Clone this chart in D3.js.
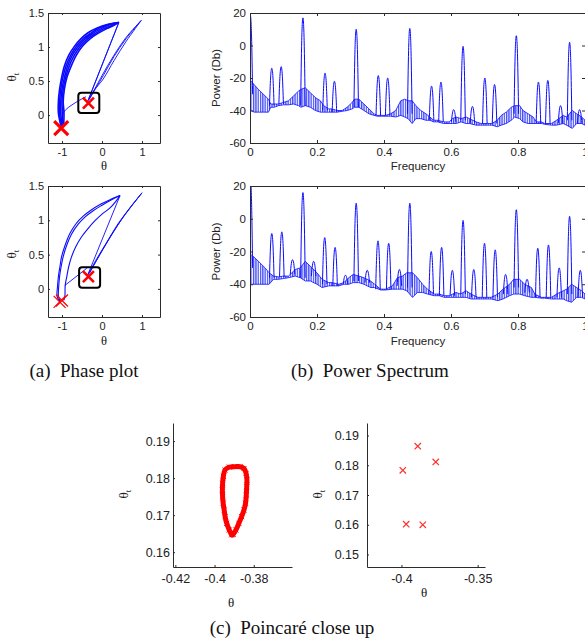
<!DOCTYPE html>
<html>
<head>
<meta charset="utf-8">
<script src="https://cdn.jsdelivr.net/npm/d3@7"></script>
<style>
  body { margin: 0; background: #fff; }
  svg { display: block; }
  .tick text { font-family: "Liberation Sans", Arial, sans-serif; fill: #222; }
</style>
</head>
<body>
<svg width="585" height="639"></svg>
<script>
// ---------- data ----------

// phase plot, top: rising bundle of orbits (theta, theta_t)
const phaseTopRise = [
  [[-1.02,-0.17],[-1.09,0.03],[-1.09,0.2],[-1.06,0.38],[-1.01,0.55],[-0.94,0.72],[-0.83,0.88],[-0.69,1.01],[-0.53,1.12],[-0.35,1.21],[-0.12,1.28],[0.13,1.33],[0.42,1.36]],
  [[-1.02,-0.17],[-1.06,0.03],[-1.06,0.2],[-1.03,0.38],[-0.98,0.55],[-0.9,0.72],[-0.78,0.88],[-0.64,1.01],[-0.47,1.12],[-0.29,1.2],[-0.07,1.28],[0.17,1.33],[0.42,1.36]],
  [[-1.0,-0.17],[-1.03,0.03],[-1.03,0.2],[-1.0,0.38],[-0.94,0.55],[-0.86,0.72],[-0.74,0.88],[-0.59,1.01],[-0.42,1.12],[-0.23,1.2],[-0.02,1.27],[0.21,1.33],[0.42,1.36]],
  [[-0.99,-0.17],[-0.99,0.03],[-1.0,0.2],[-0.97,0.38],[-0.91,0.55],[-0.82,0.72],[-0.69,0.88],[-0.54,1.01],[-0.36,1.12],[-0.16,1.2],[0.05,1.27],[0.26,1.32],[0.42,1.36]],
  [[-0.96,-0.16],[-0.95,0.03],[-0.97,0.2],[-0.94,0.38],[-0.88,0.55],[-0.77,0.72],[-0.64,0.88],[-0.49,1.01],[-0.3,1.12],[-0.1,1.2],[0.12,1.27],[0.3,1.32],[0.42,1.36]]
];
const phaseTopJumps = [
  [[0.42,1.36],[-0.36,0.2]],
  [[0.42,1.36],[-0.33,0.24]],
  [[-0.36,0.2],[-0.2,0.36],[0.03,0.53],[0.3,0.8],[0.6,1.08],[0.98,1.39]],
  [[-0.33,0.22],[-0.15,0.4],[0.05,0.6],[0.3,0.86],[0.6,1.12],[0.98,1.39]],
  [[-0.31,0.24],[0.0,0.58],[0.3,0.88],[0.6,1.14],[0.98,1.39]],
  [[-0.96,-0.16],[-0.96,0.04],[-0.4,0.27]]
];
const phaseTopBox = [-0.33, 0.18];
const phaseTopCross = [[-1.02,-0.19,7,3.2],[-0.34,0.175,5.5,2.6]];

// phase plot, bottom
const phaseBotRise = [
  [[-1.05,-0.18],[-1.12,-0.12],[-1.11,0.05],[-1.09,0.18],[-1.05,0.33],[-1.01,0.47],[-0.92,0.64],[-0.8,0.81],[-0.65,0.95],[-0.47,1.06],[-0.27,1.15],[-0.05,1.23],[0.2,1.3],[0.45,1.36]],
  [[-1.05,-0.18],[-1.09,-0.1],[-1.08,0.05],[-1.06,0.18],[-1.02,0.33],[-0.97,0.47],[-0.88,0.64],[-0.76,0.8],[-0.6,0.94],[-0.42,1.05],[-0.22,1.14],[0.0,1.22],[0.24,1.3],[0.45,1.36]],
  [[-0.96,-0.17],[-0.93,-0.12],[-0.92,0.05],[-0.88,0.18],[-0.83,0.33],[-0.76,0.47],[-0.65,0.62],[-0.51,0.76],[-0.35,0.88],[-0.18,0.99],[0.0,1.09],[0.2,1.18],[0.35,1.28],[0.45,1.36]]
];
const phaseBotJumps = [
  [[0.45,1.36],[-0.36,0.2]],
  [[-0.37,0.19],[-0.15,0.42],[0.1,0.66],[0.4,0.95],[0.7,1.18],[1.0,1.4]],
  [[-0.34,0.21],[-0.1,0.45],[0.15,0.7],[0.45,0.98],[0.72,1.2],[1.0,1.4]],
  [[-0.31,0.23],[0.0,0.56],[0.5,1.02],[1.0,1.4]],
  [[-0.93,0.05],[-0.38,0.3]]
];
const phaseBotBox = [-0.31, 0.167];
const phaseBotCross = [[-1.06,-0.19,6,1.2],[-1.0,-0.17,6,1.2],[-0.34,0.178,5.5,2.6]];

// power spectrum, top: peaks [freq, top dB, base dB]
const specTopPeaks = [
  [0.001,18.5,-30],[0.065,-14,-37],[0.093,-13,-36],[0.158,17,-37],[0.224,-17,-40],[0.252,-22,-41],
  [0.317,10,-38],[0.383,-18.5,-43],[0.411,-20,-43],[0.477,10.5,-42],[0.542,-25,-46],[0.570,-22.5,-47],
  [0.608,-39.5,-47],[0.636,-0.5,-46],[0.664,-37.5,-48],[0.701,-20,-48],[0.730,-24,-48],[0.795,6,-42],
  [0.861,-22.5,-48],[0.889,-21.5,-48],[0.927,-37,-48],[0.954,2,-46],[0.984,-39.5,-48]
];
// noise floor [freq, upper dB, lower dB]
const specTopFloor = [
  [0.004,-22,-40],[0.012,-24,-41],[0.025,-27,-41],[0.04,-30,-41],[0.055,-33,-41],[0.062,-36,-38],
  [0.072,-36,-38],[0.085,-36,-37],[0.1,-35,-36.5],[0.115,-34,-36.5],[0.13,-31,-36],[0.145,-28,-37],
  [0.152,-27,-38],[0.165,-26,-37],[0.18,-29,-38],[0.195,-32,-40],[0.21,-34,-41],[0.22,-37,-41],
  [0.235,-39,-41],[0.245,-39,-41],[0.26,-40,-41],[0.275,-40,-40.5],[0.29,-38,-40],[0.305,-35,-39],
  [0.312,-33,-38],[0.325,-33,-38],[0.34,-36,-40],[0.355,-39,-42],[0.37,-42,-43],[0.38,-43,-43.5],
  [0.395,-43,-43.5],[0.405,-43,-43.5],[0.42,-42,-43.5],[0.435,-40,-44],[0.45,-34,-43],[0.462,-33,-44],
  [0.472,-34,-45],[0.484,-34,-48],[0.495,-37,-45],[0.51,-40,-45],[0.525,-42,-46],[0.537,-44,-46],
  [0.548,-46,-47],[0.56,-46,-47],[0.578,-47,-48],[0.595,-47,-48],[0.604,-45,-48],[0.615,-44,-48],
  [0.63,-45,-47],[0.645,-44,-48],[0.655,-45,-48],[0.675,-47,-49],[0.69,-48,-49],[0.71,-48,-49],
  [0.722,-48,-49],[0.738,-46,-50],[0.75,-43,-49],[0.765,-41,-48],[0.78,-38,-46],[0.79,-37,-44],
  [0.805,-37,-45],[0.815,-40,-47],[0.83,-42,-48],[0.845,-44,-48],[0.855,-47,-48],[0.87,-47,-48],
  [0.88,-48,-48.5],[0.9,-48,-49],[0.915,-46,-49],[0.935,-43,-48],[0.945,-44,-49],[0.962,-40,-51],
  [0.975,-42,-48],[0.99,-44,-48],[1.0,-46,-49]
];

// power spectrum, bottom
const specBotPeaks = [
  [0.001,25,-30],[0.065,-9,-36],[0.095,-8,-35.5],[0.127,-25,-34],[0.158,16,-36],[0.19,-26,-35],
  [0.223,-11.5,-40],[0.254,-17.5,-41],[0.285,-34.5,-40],[0.317,9.5,-38],[0.35,-31.5,-39],[0.382,-13.5,-43],
  [0.414,-15,-43],[0.446,-31,-41],[0.477,9.5,-42],[0.541,-20,-46],[0.572,-17.5,-47],[0.604,-31.5,-47],
  [0.636,-1,-46],[0.668,-31,-48],[0.700,-15,-48],[0.732,-19,-48],[0.763,-34,-46],[0.795,5.5,-42],
  [0.827,-37,-45],[0.859,-18,-48],[0.891,-16,-48],[0.923,-30,-48],[0.954,1.5,-46],[0.986,-31.5,-48]
];
const specBotFloor = [
  [0.004,-22,-40],[0.015,-24,-40],[0.03,-27,-40],[0.045,-30,-40],[0.057,-33,-40],[0.07,-35,-37],
  [0.085,-35.5,-37],[0.1,-35,-36.5],[0.115,-35,-36],[0.135,-31,-35],[0.15,-30,-36],[0.165,-26,-38],
  [0.18,-29,-38],[0.2,-33,-40],[0.215,-37,-42],[0.235,-39,-41],[0.245,-39,-41],[0.265,-40,-41],
  [0.28,-39,-40],[0.295,-36,-40],[0.308,-34,-39],[0.325,-35,-39],[0.34,-36,-40],[0.36,-38,-42],
  [0.372,-40,-42],[0.39,-43,-43.5],[0.405,-43,-43.5],[0.425,-41,-43],[0.44,-36,-43],[0.455,-35,-43],
  [0.468,-33,-44],[0.485,-33,-48],[0.5,-36,-45],[0.515,-40,-45],[0.53,-43,-46],[0.55,-46,-47],
  [0.565,-46,-47],[0.58,-47,-48],[0.595,-47,-48],[0.615,-45,-48],[0.628,-46,-48],[0.645,-44,-48],
  [0.66,-46,-49],[0.68,-48,-49],[0.69,-48,-49],[0.71,-48,-49],[0.72,-48,-49],[0.74,-46,-50],
  [0.755,-43,-49],[0.775,-40,-47],[0.787,-37,-46],[0.805,-37,-46],[0.82,-40,-47],[0.84,-42,-48],
  [0.85,-46,-48],[0.87,-48,-48.5],[0.88,-48,-48.5],[0.9,-48,-49],[0.915,-46,-49],[0.935,-44,-49],
  [0.945,-43,-50],[0.96,-40,-51],[0.975,-42,-48],[0.99,-44,-48],[1.0,-46,-49]
];

// Poincare close up, left: the closed loop of section points
const poincLoop = [
  [-0.3896,0.1831],[-0.3870,0.1831],[-0.3850,0.1826],[-0.3839,0.1813],[-0.3835,0.1795],[-0.3836,0.1777],
  [-0.3838,0.1755],[-0.3842,0.1732],[-0.3850,0.1714],[-0.3862,0.1696],[-0.3876,0.1678],[-0.3891,0.1660],
  [-0.3905,0.1648],[-0.3913,0.1647],[-0.3925,0.1660],[-0.3938,0.1678],[-0.3946,0.1696],[-0.3951,0.1714],
  [-0.3956,0.1732],[-0.3959,0.1750],[-0.3960,0.1768],[-0.3959,0.1786],[-0.3955,0.1805],[-0.3947,0.1822],
  [-0.3925,0.1830]
];
// Poincare close up, right: five isolated points
const poincPoints = [[-0.3991,0.1783],[-0.3893,0.1864],[-0.3775,0.1811],[-0.3969,0.1602],[-0.3860,0.1600]];

// tick values
const phaseXTicks = [-1, 0, 1];
const phaseYTicks = [0, 0.5, 1, 1.5];
const specXTicks = [0, 0.2, 0.4, 0.6, 0.8, 1];
const specYTicks = [-60, -40, -20, 0, 20];
const poincLXTicks = [-0.42, -0.4, -0.38];
const poincLYTicks = [0.16, 0.17, 0.18, 0.19];
const poincRXTicks = [-0.4, -0.35];
const poincRYTicks = [0.15, 0.16, 0.17, 0.18, 0.19];

// ---------- drawing ----------
const svg = d3.select("svg");
const AX = "#2b2b2b";
const BLUE = "#0a0aff";
const RED = "#ff0000";
const fmt = d => String(d);

// vertical hatching, stands in for the dense ripple of the noise floor
svg.append("defs").append("pattern").attr("id", "ripple")
  .attr("patternUnits", "userSpaceOnUse").attr("width", 2.3).attr("height", 10)
  .append("rect").attr("width", 1.3).attr("height", 10).attr("fill", "#2530f8").attr("fill-opacity", 0.85);

// peak outline: [freq offset, fraction of peak height]
const PEAK_SHAPE = [[-0.0068,0],[-0.0052,0.42],[-0.0036,0.74],[-0.0018,0.94],[0,1],
                    [0.0018,0.94],[0.0036,0.74],[0.0052,0.42],[0.0068,0]];

let clipId = 0;
function clipFor(x, y) {
  const id = "clip" + (clipId++);
  svg.append("clipPath").attr("id", id).append("rect")
    .attr("x", x.range()[0]).attr("y", y.range()[1])
    .attr("width", x.range()[1] - x.range()[0])
    .attr("height", y.range()[0] - y.range()[1]);
  return `url(#${id})`;
}

function drawAxes(x, y, o) {
  const g = svg.append("g");
  const [x0, x1] = x.range(), [y0, y1] = y.range();
  g.append("g").attr("transform", `translate(0,${y0})`)
    .call(d3.axisBottom(x).tickValues(o.xt).tickFormat(fmt).tickSizeInner(-o.tick).tickSizeOuter(0).tickPadding(o.xpad));
  g.append("g").attr("transform", `translate(${x0},0)`)
    .call(d3.axisLeft(y).tickValues(o.yt).tickFormat(fmt).tickSizeInner(-o.tick).tickSizeOuter(0).tickPadding(o.ypad));
  if (o.box) {
    g.append("g").attr("transform", `translate(0,${y1})`)
      .call(d3.axisTop(x).tickValues(o.xt).tickFormat("").tickSizeInner(-o.tick).tickSizeOuter(0));
    g.append("g").attr("transform", `translate(${x1},0)`)
      .call(d3.axisRight(y).tickValues(o.yt).tickFormat("").tickSizeInner(-o.tick).tickSizeOuter(0));
  }
  g.selectAll(".domain, .tick line").attr("stroke", AX);
  g.selectAll(".tick text").style("font-size", o.font + "px");
  return g;
}

function serifText(x, y, txt, size) {
  return svg.append("text").attr("x", x).attr("y", y).attr("text-anchor", "middle")
    .style("font-family", "'Liberation Serif', 'Times New Roman', serif")
    .style("font-size", size + "px").attr("fill", "#111").text(txt);
}

function thetaT(cx, cy) {
  const t = svg.append("text").attr("transform", `translate(${cx},${cy}) rotate(-90)`)
    .attr("text-anchor", "middle")
    .style("font-family", "'Liberation Serif', 'Times New Roman', serif")
    .style("font-size", "13px").attr("fill", "#222");
  t.append("tspan").text("\u03b8");
  t.append("tspan").attr("dy", 3).style("font-size", "9px").text("t");
}

function cross(g, x, y, cx, cy, s, w, color) {
  const px = x(cx), py = y(cy);
  g.append("path")
    .attr("d", `M${px - s},${py - s}L${px + s},${py + s}M${px - s},${py + s}L${px + s},${py - s}`)
    .attr("stroke", color).attr("stroke-width", w).attr("fill", "none");
}

// ---- phase plots ----
function phasePlot(y, rise, jumps, box, crosses, labelY, riseWidth) {
  const x = d3.scaleLinear().domain([-1.35, 1.45]).range([48, 160]);
  const g = svg.append("g").attr("clip-path", clipFor(x, y));
  const smooth = d3.line().x(d => x(d[0])).y(d => y(d[1])).curve(d3.curveCatmullRom.alpha(0.5));
  const straight = d3.line().x(d => x(d[0])).y(d => y(d[1]));
  rise.forEach(r => g.append("path").attr("d", smooth(r)).attr("fill", "none")
    .attr("stroke", BLUE).attr("stroke-width", riseWidth));
  jumps.forEach(r => g.append("path").attr("d", (r.length > 2 ? smooth : straight)(r)).attr("fill", "none")
    .attr("stroke", BLUE).attr("stroke-width", 0.9));
  const gm = svg.append("g");
  gm.append("rect").attr("x", x(box[0]) - 10.5).attr("y", y(box[1]) - 10.2)
    .attr("width", 21).attr("height", 20.4).attr("rx", 3)
    .attr("fill", "none").attr("stroke", "#000").attr("stroke-width", 2);
  crosses.forEach(c => cross(gm, x, y, c[0], c[1], c[2], c[3], RED));
  drawAxes(x, y, { xt: phaseXTicks, yt: phaseYTicks, tick: 2, xpad: 5, ypad: 4, box: true, font: 11 });
  serifText(104, labelY, "\u03b8", 12.5);
}
const yPT = d3.scaleLinear().domain([-0.41, 1.5]).range([143, 13]);
const yPB = d3.scaleLinear().domain([-0.41, 1.5]).range([317, 186]);
phasePlot(yPT, phaseTopRise, phaseTopJumps, phaseTopBox, phaseTopCross, 170, 1.6);
phasePlot(yPB, phaseBotRise, phaseBotJumps, phaseBotBox, phaseBotCross, 345, 1.1);
thetaT(16, 77);
thetaT(16, 254);

// ---- power spectra ----
function spectrum(y, peaks, floor, labelY) {
  const x = d3.scaleLinear().domain([0, 1]).range([250, 585]);
  const g = svg.append("g").attr("clip-path", clipFor(x, y));
  const area = d3.area().x(d => x(d[0])).y0(d => y(d[2])).y1(d => y(d[1]));
  g.append("path").attr("d", area(floor)).attr("fill", "url(#ripple)");
  const up = d3.line().x(d => x(d[0])).y(d => y(d[1]));
  const lo = d3.line().x(d => x(d[0])).y(d => y(d[2]));
  g.append("path").attr("d", up(floor)).attr("fill", "none").attr("stroke", BLUE).attr("stroke-width", 0.8);
  g.append("path").attr("d", lo(floor)).attr("fill", "none").attr("stroke", BLUE).attr("stroke-width", 0.8);
  const pk = d3.line().x(d => x(d[0])).y(d => y(d[1])).curve(d3.curveMonotoneX);
  peaks.forEach(p => {
    const pts = PEAK_SHAPE.map(s => [p[0] + s[0], p[2] + (p[1] - p[2]) * s[1]]);
    g.append("path").attr("d", pk(pts)).attr("fill", "none").attr("stroke", BLUE).attr("stroke-width", 1);
  });
  drawAxes(x, y, { xt: specXTicks, yt: specYTicks, tick: 3, xpad: 5, ypad: 4, box: true, font: 11.5 });
  svg.append("text").attr("x", 418).attr("y", labelY).attr("text-anchor", "middle")
    .style("font-family", "'Liberation Sans', Arial, sans-serif").style("font-size", "11.5px")
    .attr("fill", "#222").text("Frequency");
  svg.append("text").attr("transform", `translate(220,${(y.range()[0] + y.range()[1]) / 2}) rotate(-90)`)
    .attr("text-anchor", "middle")
    .style("font-family", "'Liberation Sans', Arial, sans-serif").style("font-size", "11.5px")
    .attr("fill", "#222").text("Power (Db)");
}
spectrum(d3.scaleLinear().domain([-60, 20]).range([143, 13]), specTopPeaks, specTopFloor, 170);
spectrum(d3.scaleLinear().domain([-60, 20]).range([317, 186]), specBotPeaks, specBotFloor, 345);

// ---- Poincare close ups ----
{
  const x = d3.scaleLinear().domain([-0.4212, -0.3605]).range([173, 292]);
  const y = d3.scaleLinear().domain([0.156, 0.1949]).range([567, 423]);
  const g = svg.append("g");
  g.append("path").attr("d", d3.line().x(d => x(d[0])).y(d => y(d[1])).curve(d3.curveCardinalClosed)(poincLoop))
    .attr("fill", "none").attr("stroke", RED).attr("stroke-width", 5);
  poincLoop.forEach(p => cross(g, x, y, p[0], p[1], 2.5, 1, RED));
  drawAxes(x, y, { xt: poincLXTicks, yt: poincLYTicks, tick: 2, xpad: 7, ypad: 3, box: false, font: 12.5 });
  serifText(231, 607, "\u03b8", 13);
  thetaT(128, 494);
}
{
  const x = d3.scaleLinear().domain([-0.4226, -0.3452]).range([367, 485]);
  const y = d3.scaleLinear().domain([0.1458, 0.1942]).range([567, 423]);
  const g = svg.append("g");
  poincPoints.forEach(p => cross(g, x, y, p[0], p[1], 3.2, 1.2, "#ff3030"));
  drawAxes(x, y, { xt: poincRXTicks, yt: poincRYTicks, tick: 2, xpad: 7, ypad: 8, box: false, font: 12.5 });
  serifText(424, 597, "\u03b8", 13);
  thetaT(322, 494);
}

// ---- captions ----
serifText(84, 377, "(a)  Phase plot", 19).style("white-space", "pre");
serifText(370, 377, "(b)  Power Spectrum", 19).style("white-space", "pre");
serifText(292, 634, "(c)  Poincaré close up", 19).style("white-space", "pre");
</script>
</body>
</html>
